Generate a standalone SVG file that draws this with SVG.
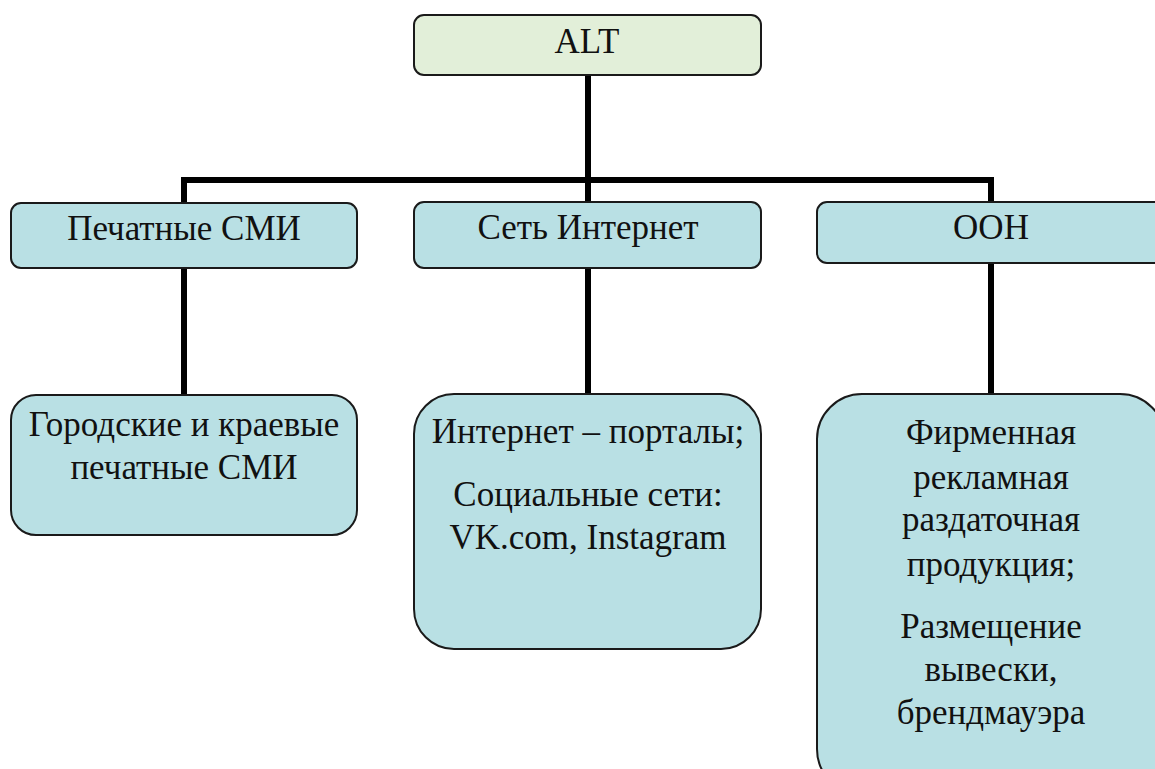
<svg xmlns="http://www.w3.org/2000/svg" width="1155" height="769" viewBox="0 0 1155 769">
<style>
.box{fill:#b9e0e4;stroke:#1a1a1a;stroke-width:2}
.top{fill:#e2efd9;stroke:#1a1a1a;stroke-width:2}
.t{font-family:"Liberation Serif","Times New Roman",serif;font-size:35px;fill:#111;text-anchor:middle}
.c{fill:none;stroke:#000;stroke-width:6}
</style>
<rect width="1155" height="769" fill="#fff"/>
<g id="connectors">
<path class="c" d="M588 75V180M184 180H991M184 177V203M588 180V203M991 177V203"/>
<path class="c" d="M184 268V395M588 268V394M991 263V394"/>
</g>
<g id="alt"><rect class="top" x="414" y="15" width="347" height="60" rx="10"/><text class="t" x="587" y="53">ALT</text></g>
<g id="print"><rect class="box" x="11" y="203" width="346" height="65" rx="10"/><text class="t" x="184" y="240">Печатные СМИ</text></g>
<g id="internet"><rect class="box" x="414" y="202" width="347" height="66" rx="10"/><text class="t" x="588" y="239">Сеть Интернет</text></g>
<g id="ooh"><rect class="box" x="817" y="202" width="348" height="61" rx="10"/><text class="t" x="991" y="239">ООН</text></g>
<g id="print-detail"><rect class="box" x="11" y="395" width="346" height="140" rx="25"/><text class="t" x="184" y="436">Городские и краевые</text><text class="t" x="184" y="479">печатные СМИ</text></g>
<g id="internet-detail"><rect class="box" x="414" y="394" width="347" height="255" rx="40"/><text class="t" x="588" y="443">Интернет – порталы;</text><text class="t" x="588" y="506">Социальные сети:</text><text class="t" x="588" y="549">VK.com, Instagram</text></g>
<g id="ooh-detail"><rect class="box" x="817" y="394" width="348" height="400" rx="45"/><text class="t" x="991" y="444">Фирменная</text><text class="t" x="991" y="489">рекламная</text><text class="t" x="991" y="531">раздаточная</text><text class="t" x="991" y="576">продукция;</text><text class="t" x="991" y="638">Размещение</text><text class="t" x="991" y="681">вывески,</text><text class="t" x="991" y="724">брендмауэра</text></g>
</svg>
